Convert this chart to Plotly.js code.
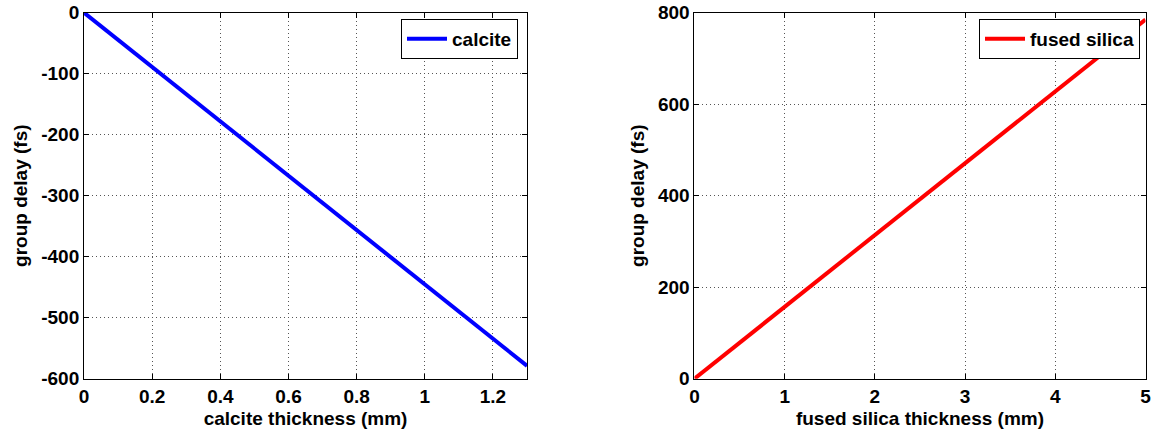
<!DOCTYPE html>
<html><head><meta charset="utf-8">
<script src="https://cdn.plot.ly/plotly-3.0.1.min.js"></script>
<style>html,body{margin:0;padding:0;background:#fff}</style>
</head><body><div id="chart" style="width:1153px;height:434px"></div>
<script>
const calciteThickness = [0, 0.2, 0.4, 0.6, 0.8, 1.0, 1.2, 1.3];
const calciteDelay = [0, -89, -178, -267, -356, -445, -534, -579];
const silicaThickness = [0, 1, 2, 3, 4, 5];
const silicaDelay = [0, 157, 314, 471, 628, 785];
const xTicksLeft = [0, 0.2, 0.4, 0.6, 0.8, 1, 1.2];
const yTicksLeft = [0, -100, -200, -300, -400, -500, -600];
const xTicksRight = [0, 1, 2, 3, 4, 5];
const yTicksRight = [0, 200, 400, 600, 800];

const F = {family: 'Liberation Sans, Arial, sans-serif', size: 19, color: '#000', weight: 'bold'};
function ax(extra){
  return Object.assign({
    showline: true, linecolor: '#000', linewidth: 1, mirror: 'allticks',
    ticks: 'inside', ticklen: 5, tickcolor: '#000', tickwidth: 1,
    showgrid: true, gridcolor: '#555', griddash: '1px,3px', gridwidth: 1,
    zeroline: false, tickfont: F, fixedrange: true
  }, extra);
}
const data = [
  {x: calciteThickness, y: calciteDelay, mode: 'lines', name: 'calcite',
   line: {color: '#0000ff', width: 4}, xaxis: 'x', yaxis: 'y', legend: 'legend'},
  {x: silicaThickness, y: silicaDelay, mode: 'lines', name: 'fused silica',
   line: {color: '#ff0000', width: 4}, xaxis: 'x2', yaxis: 'y2', legend: 'legend2'}
];
const dom = [0.1274, 0.9707];
const legBase = {bgcolor: '#fff', bordercolor: '#000', borderwidth: 1, font: F,
  xanchor: 'right', yanchor: 'top', itemwidth: 40, tracegroupgap: 0};
const layout = {
  width: 1153, height: 434, margin: {l: 0, r: 0, t: 0, b: 0},
  paper_bgcolor: '#fff', plot_bgcolor: '#fff', showlegend: true,
  font: F,
  xaxis: ax({domain: [0.0729, 0.4571], range: [0, 1.3], tickvals: xTicksLeft,
    ticktext: xTicksLeft.map(String), anchor: 'y',
    title: {text: 'calcite thickness (mm)', font: F, standoff: 6}}),
  yaxis: ax({domain: dom, range: [-600, 0], tickvals: yTicksLeft,
    ticktext: yTicksLeft.map(String), anchor: 'x',
    title: {text: 'group delay (fs)', font: F, standoff: 8}}),
  xaxis2: ax({domain: [0.6023, 0.9935], range: [0, 5], tickvals: xTicksRight,
    ticktext: xTicksRight.map(String), anchor: 'y2',
    title: {text: 'fused silica thickness (mm)', font: F, standoff: 6}}),
  yaxis2: ax({domain: dom, range: [0, 800], tickvals: yTicksRight,
    ticktext: yTicksRight.map(String), anchor: 'x2',
    title: {text: 'group delay (fs)', font: F, standoff: 8}}),
  legend: Object.assign({}, legBase, {x: 518/1153, y: (434-19)/434}),
  legend2: Object.assign({}, legBase, {x: 1140/1153, y: (434-19)/434})
};
Plotly.newPlot('chart', data, layout, {staticPlot: true, displayModeBar: false});
</script></body></html>
